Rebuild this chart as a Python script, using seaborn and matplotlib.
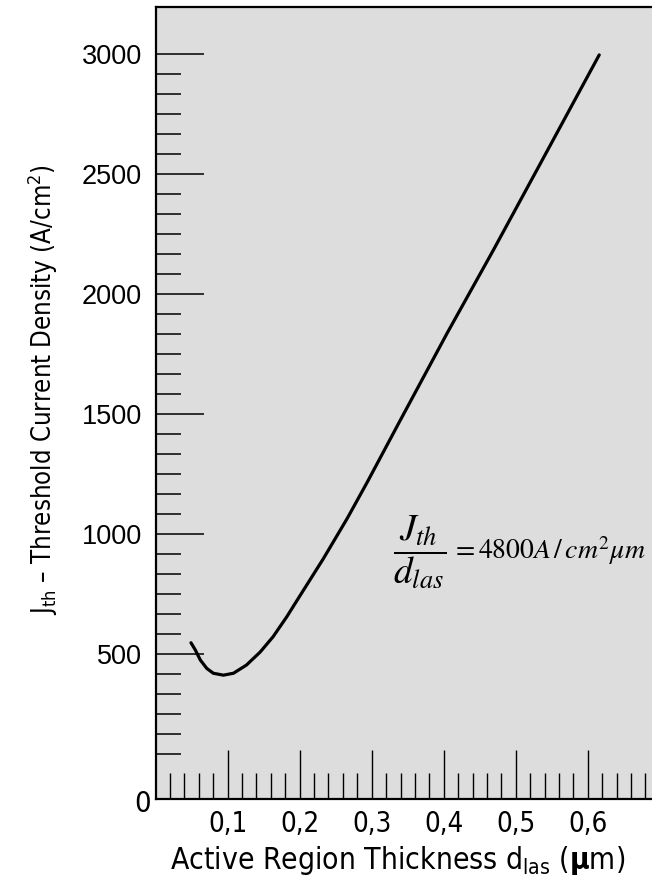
import numpy as np
import matplotlib
matplotlib.use("Agg")
import matplotlib.pyplot as plt
from matplotlib import font_manager as fm
from matplotlib.ticker import FixedLocator, NullFormatter
import seaborn as sns

# values
thickness = [0.049, 0.055, 0.062, 0.071, 0.080, 0.094, 0.108, 0.126, 0.145,
             0.163, 0.182, 0.196, 0.233, 0.266, 0.294, 0.339, 0.405, 0.469,
             0.534, 0.616]
j_th = [547, 517, 475, 440, 420, 412, 420, 454, 508,
        572, 655, 722, 898, 1065, 1217, 1470, 1838, 2183,
        2542, 2996]

y_major = [500, 1000, 1500, 2000, 2500, 3000]
y_major_labels = ["500", "1000", "1500", "2000", "2500", "3000"]
x_major = [0.1, 0.2, 0.3, 0.4, 0.5, 0.6]
x_major_labels = ["0,1", "0,2", "0,3", "0,4", "0,5", "0,6"]

sns.set_style("ticks")

# the original uses a condensed sans; use DejaVu Sans Condensed if it is there
cond_path = fm.findfont(fm.FontProperties(family="DejaVu Sans", stretch="condensed"))
has_cond = "Condensed" in cond_path
if has_cond:
    stretch, k = "condensed", 1.1
else:
    stretch, k = "normal", 1.0
plt.rcParams["font.family"] = ["DejaVu Sans"]
plt.rcParams["font.stretch"] = stretch
plt.rcParams["mathtext.fontset"] = "custom"
plt.rcParams["mathtext.rm"] = "DejaVu Sans"
plt.rcParams["mathtext.bf"] = "DejaVu Sans:bold"
plt.rcParams["text.color"] = "black"
plt.rcParams["axes.labelcolor"] = "black"
plt.rcParams["xtick.color"] = "black"
plt.rcParams["ytick.color"] = "black"

fig = plt.figure(figsize=(6.52, 8.88), dpi=100)
ax = fig.add_axes([0.2388, 0.1002, 0.7612, 0.8923])
ax.set_facecolor("#dddddd")

sns.lineplot(x=thickness, y=j_th, color="black", linewidth=2.3, ax=ax)

ax.set_xlim(0, 0.6893)
ax.set_ylim(-104, 3197)

ax.set_yticks(y_major)
ax.set_yticklabels(y_major_labels, family=["Liberation Sans", "DejaVu Sans"],
                   fontsize=19.5)
y_minor = [i * 500 / 6 for i in range(1, 36) if i % 6 != 0]
ax.yaxis.set_minor_locator(FixedLocator(y_minor))
ax.yaxis.set_minor_formatter(NullFormatter())

ax.set_xticks(x_major)
ax.set_xticklabels(x_major_labels, fontsize=18 * k, stretch=stretch)
x_minor = [i * 0.02 for i in range(1, 35) if i % 5 != 0]
ax.xaxis.set_minor_locator(FixedLocator(x_minor))
ax.xaxis.set_minor_formatter(NullFormatter())

ax.tick_params(axis="y", which="major", direction="in", length=34.5, width=1.1,
               pad=10, left=True, right=False)
ax.tick_params(axis="y", which="minor", direction="in", length=18, width=1.1,
               left=True, right=False)
ax.tick_params(axis="x", which="major", direction="in", length=35, width=1.0,
               pad=8, bottom=True, top=False)
ax.tick_params(axis="x", which="minor", direction="in", length=18.5, width=1.0,
               bottom=True, top=False)

for side in ["left", "top", "bottom"]:
    ax.spines[side].set_color("black")
    ax.spines[side].set_linewidth(1.6)
ax.spines["right"].set_visible(False)

ax.set_xlabel(r"Active Region Thickness d$_{\mathrm{las}}$ ($\mathbf{µ}$m)",
              fontsize=19.6 * k, va="center", stretch=stretch)
ax.xaxis.set_label_coords(0.488, -0.078)
ax.set_ylabel(r"J$_{\mathrm{th}}$ – Threshold Current Density (A/cm$^{2}$)",
              fontsize=16.8 * k, va="center", stretch=stretch)
ax.yaxis.set_label_coords(-0.227, 0.517)

# corner zero label
ax.text(-0.0256, -0.006, "0", transform=ax.transAxes, fontsize=19 * k,
        stretch=stretch, ha="center", va="center")

# formula annotation: big fraction, then the value
ax.text(0.33, 925, r"$\dfrac{J_{th}}{d_{las}}$",
        fontsize=27, math_fontfamily="stix", ha="left", va="center")
ax.text(0.41, 930, r"$= 4800A\,/\,cm^2\mu m$",
        fontsize=20, math_fontfamily="stix", ha="left", va="center")

fig.savefig("out.png", dpi=100)
